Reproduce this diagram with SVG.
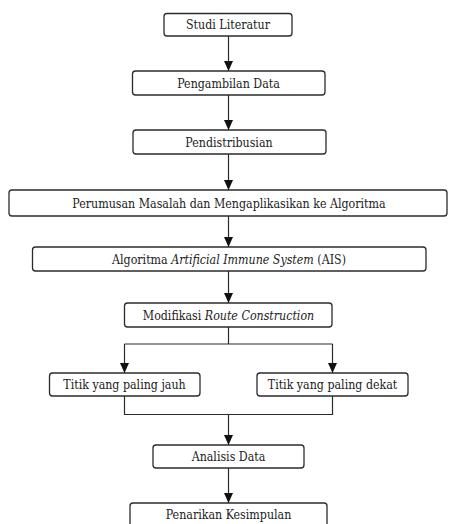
<svg xmlns="http://www.w3.org/2000/svg" width="449" height="524" viewBox="0 0 449 524">
<style>
.box{fill:#fff;stroke:#2b2b2b;stroke-width:1.3}
.t{font-family:"DejaVu Serif Condensed","DejaVu Serif",serif;font-stretch:condensed;font-size:12.3px;fill:#222;text-anchor:middle}
.ln{fill:none;stroke:#2b2b2b;stroke-width:1.2}
.i{font-style:italic}
</style>
<defs>
<marker id="ah" markerWidth="10" markerHeight="10" viewBox="0 0 10 10" refX="10" refY="5" orient="auto" markerUnits="userSpaceOnUse">
<path d="M0,0.5 L10,5 L0,9.5 Z" fill="#111"/>
</marker>
</defs>
<rect width="449" height="524" fill="#fff"/>
<g id="connectors">
<line class="ln" x1="228.5" y1="36" x2="228.5" y2="71" marker-end="url(#ah)"/>
<line class="ln" x1="228.5" y1="95" x2="228.5" y2="130" marker-end="url(#ah)"/>
<line class="ln" x1="228.5" y1="154" x2="228.5" y2="190" marker-end="url(#ah)"/>
<line class="ln" x1="228.5" y1="216" x2="228.5" y2="247" marker-end="url(#ah)"/>
<line class="ln" x1="228.5" y1="271" x2="228.5" y2="303" marker-end="url(#ah)"/>
<polyline class="ln" points="228.5,327 228.5,344"/>
<polyline class="ln" points="124.5,344 332.5,344"/>
<line class="ln" x1="124.5" y1="344" x2="124.5" y2="373" marker-end="url(#ah)"/>
<line class="ln" x1="332.5" y1="344" x2="332.5" y2="373" marker-end="url(#ah)"/>
<polyline class="ln" points="124.5,396 124.5,414.5 332.5,414.5 332.5,396"/>
<line class="ln" x1="228.5" y1="414.5" x2="228.5" y2="445" marker-end="url(#ah)"/>
<line class="ln" x1="228.5" y1="468" x2="228.5" y2="503" marker-end="url(#ah)"/>
</g>
<g id="n1"><rect class="box" x="164" y="13.5" width="128" height="22.5" rx="3"/><text class="t" x="228" y="29">Studi Literatur</text></g>
<g id="n2"><rect class="box" x="132.5" y="71" width="192.5" height="24" rx="3"/><text class="t" x="228.5" y="87.5">Pengambilan Data</text></g>
<g id="n3"><rect class="box" x="133" y="130" width="193" height="24" rx="3"/><text class="t" x="229" y="146.5">Pendistribusian</text></g>
<g id="n4"><rect class="box" x="9" y="190" width="438" height="26" rx="3"/><text class="t" x="229" y="207.5">Perumusan Masalah dan Mengaplikasikan ke Algoritma</text></g>
<g id="n5"><rect class="box" x="32.5" y="247" width="393.5" height="24" rx="3"/><text class="t" x="229" y="263.5">Algoritma <tspan class="i">Artificial Immune System</tspan> (AIS)</text></g>
<g id="n6"><rect class="box" x="124.5" y="303" width="207.5" height="24" rx="3"/><text class="t" x="228.5" y="319.5">Modifikasi <tspan class="i">Route Construction</tspan></text></g>
<g id="n7"><rect class="box" x="49.5" y="373" width="150.5" height="23" rx="3"/><text class="t" x="124.5" y="389">Titik yang paling jauh</text></g>
<g id="n8"><rect class="box" x="257" y="373" width="151" height="23" rx="3"/><text class="t" x="332.5" y="389">Titik yang paling dekat</text></g>
<g id="n9"><rect class="box" x="153" y="445" width="151" height="23" rx="3"/><text class="t" x="228.5" y="461">Analisis Data</text></g>
<g id="n10"><rect class="box" x="130" y="503" width="197" height="24" rx="3"/><text class="t" x="228.5" y="518.5">Penarikan Kesimpulan</text></g>
</svg>
